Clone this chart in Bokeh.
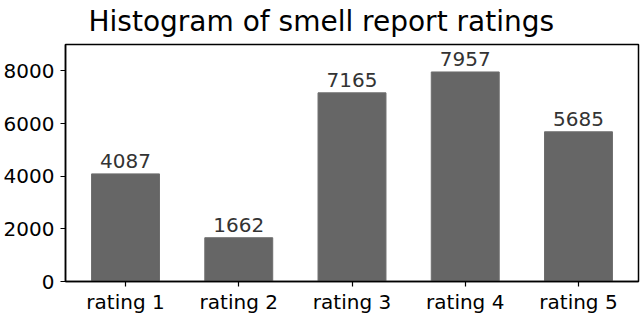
from bokeh.plotting import figure
from bokeh.models import Range1d, FixedTicker, ColumnDataSource
from bokeh.core.properties import value
from bokeh.embed import file_html
from bokeh.resources import INLINE

categories = ["rating 1", "rating 2", "rating 3", "rating 4", "rating 5"]
counts = [4087, 1662, 7165, 7957, 5685]
y_ticks = [0, 2000, 4000, 6000, 8000]
title_text = "Histogram of smell report ratings"

FONT = "DejaVu Sans"
Y_MAX = 9000
X_PAD = 0.53

xs = list(range(len(categories)))
src = ColumnDataSource(dict(x=xs, top=counts, label=[str(c) for c in counts]))

p = figure(width=640, height=316, output_backend="svg", toolbar_location=None,
           x_range=Range1d(-X_PAD, len(categories) - 1 + X_PAD),
           y_range=Range1d(0, Y_MAX),
           min_border_left=65, min_border_right=2, min_border_top=44, min_border_bottom=34)

p.title.text = title_text
p.title.text_font = FONT
p.title.text_font_size = "28px"
p.title.text_font_style = "normal"
p.title.text_color = "black"
p.title.align = "left"
p.title.vertical_align = "top"
p.title.offset = 23
p.title.standoff = 9

p.vbar(x="x", top="top", width=0.6, source=src, fill_color="#666666", line_color="#6e6e6e", line_width=1)
p.text(x="x", y="top", text="label", source=src, text_align="center", text_baseline="bottom",
       y_offset=-6, text_font=value(FONT), text_font_size="20px", text_color="#333333")

p.xgrid.visible = False
p.ygrid.visible = False
p.outline_line_color = "black"
p.outline_line_width = 1.5
p.outline_line_alpha = 1

for ax in (p.xaxis[0], p.yaxis[0]):
    ax.axis_line_color = "black"
    ax.axis_line_width = 1.5
    ax.major_tick_line_color = "black"
    ax.major_tick_line_width = 1.2
    ax.major_tick_out = 5
    ax.major_tick_in = 0
    ax.minor_tick_line_color = None
    ax.major_label_text_font = FONT
    ax.major_label_text_font_size = "20px"
    ax.major_label_text_color = "black"

p.xaxis[0].major_label_standoff = 3
p.yaxis[0].major_label_standoff = 6

p.xaxis[0].ticker = FixedTicker(ticks=xs)
p.xaxis[0].major_label_overrides = {i: c for i, c in enumerate(categories)}
p.yaxis[0].ticker = FixedTicker(ticks=y_ticks)

open("out.html", "w").write(file_html(p, INLINE))
